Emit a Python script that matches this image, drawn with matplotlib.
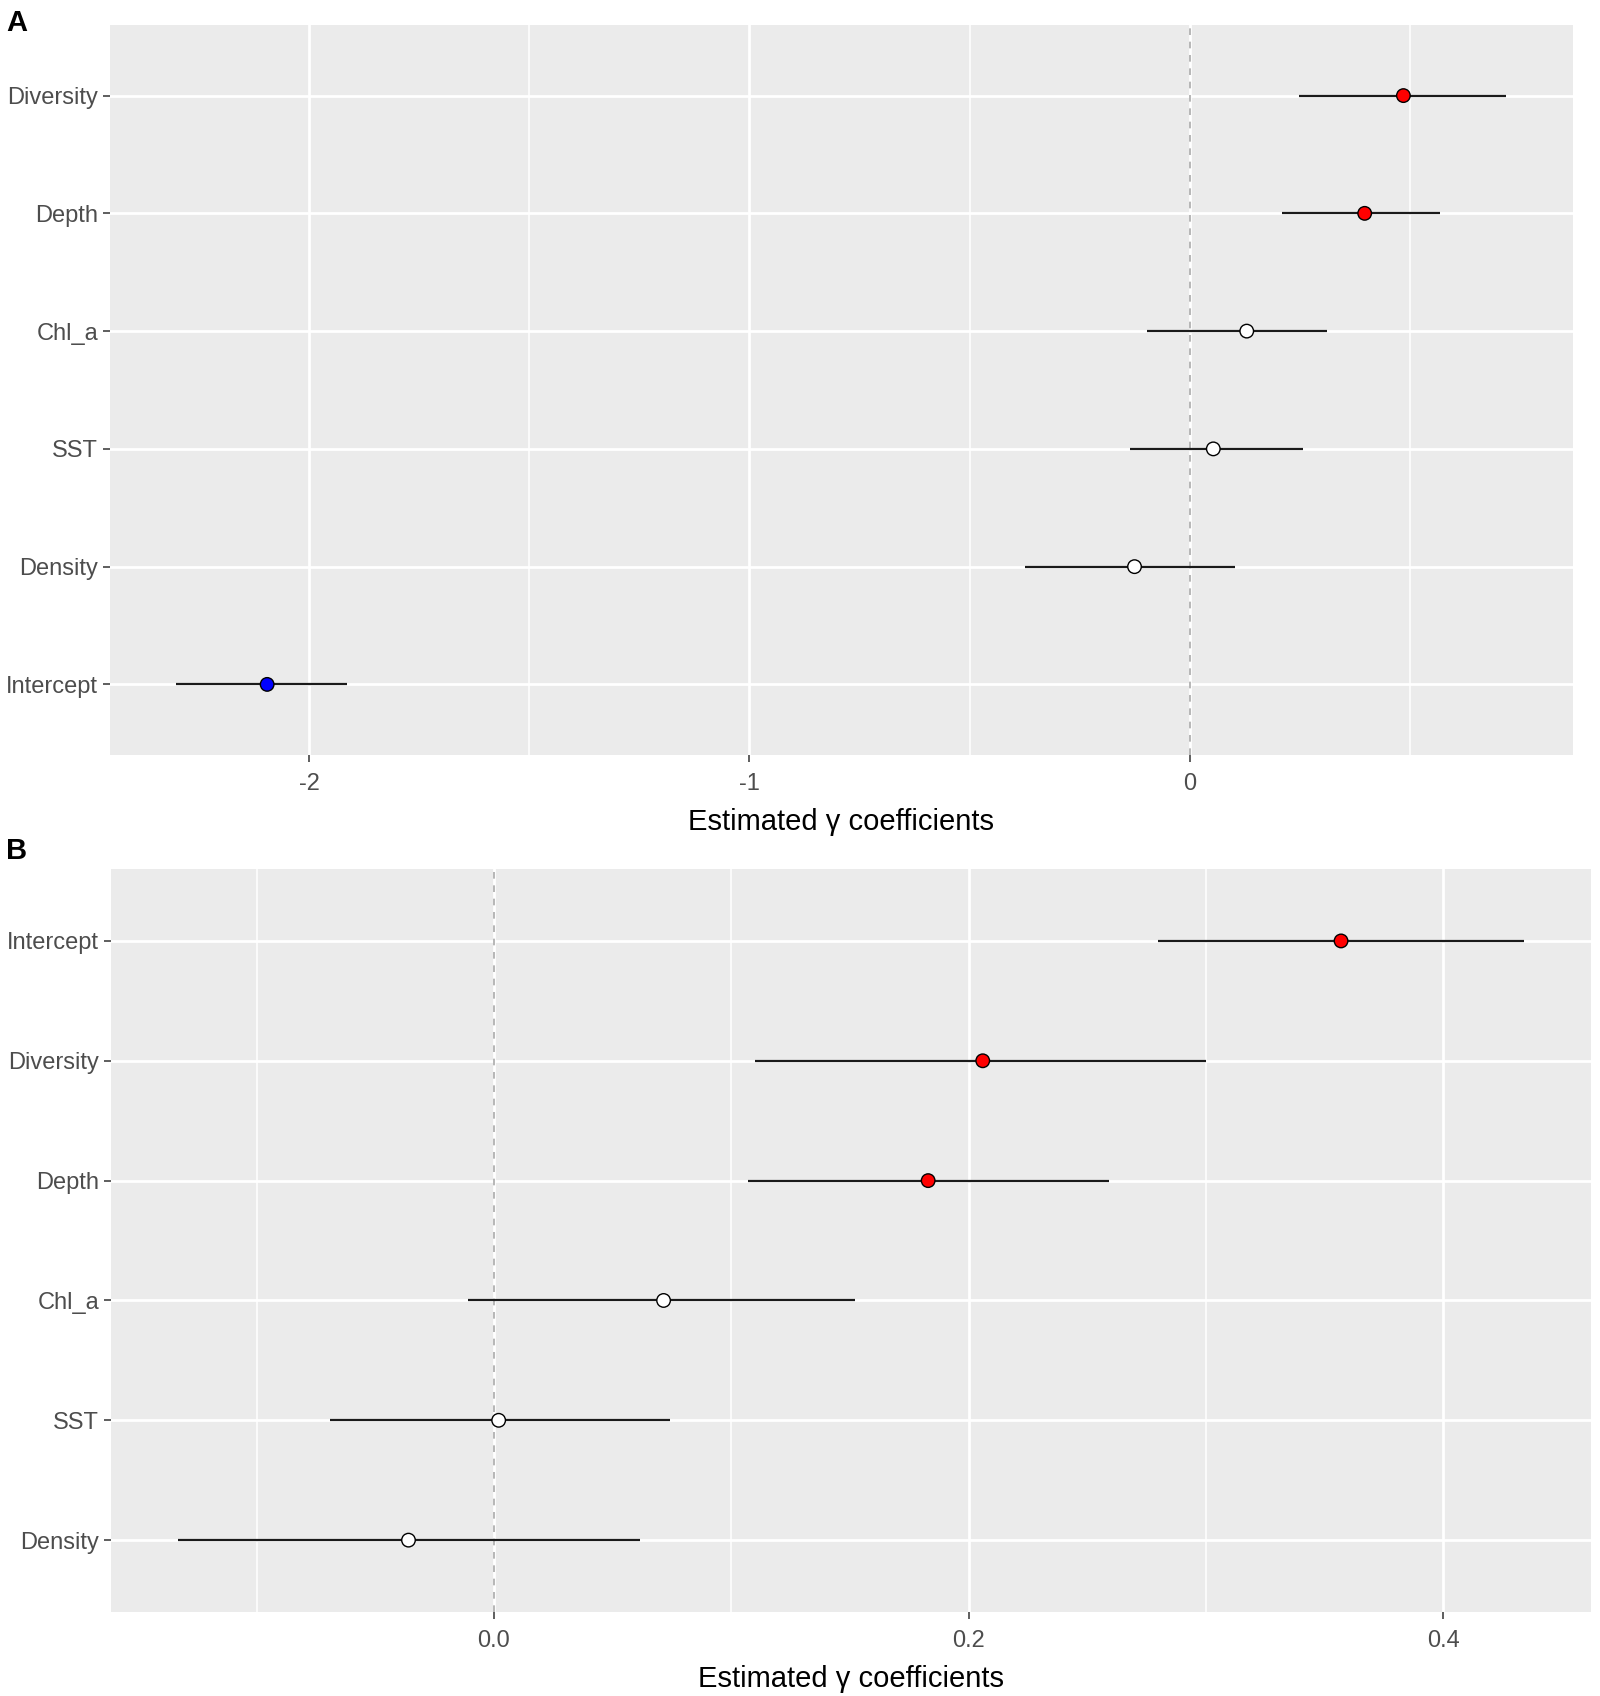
import matplotlib.pyplot as plt
import numpy as np

plt.rcParams['font.family'] = ['Liberation Sans', 'DejaVu Sans']

# panel A (bottom to top)
labels_a = ['Intercept', 'Density', 'SST', 'Chl_a', 'Depth', 'Diversity']
est_a = [-2.096, -0.125, 0.054, 0.130, 0.398, 0.486]
low_a = [-2.302, -0.373, -0.135, -0.096, 0.211, 0.248]
high_a = [-1.914, 0.103, 0.258, 0.312, 0.570, 0.720]
fill_a = ['blue', 'white', 'white', 'white', 'red', 'red']

# panel B (bottom to top)
labels_b = ['Density', 'SST', 'Chl_a', 'Depth', 'Diversity', 'Intercept']
est_b = [-0.036, 0.002, 0.0715, 0.183, 0.206, 0.357]
low_b = [-0.133, -0.069, -0.011, 0.107, 0.110, 0.280]
high_b = [0.0615, 0.074, 0.152, 0.259, 0.300, 0.434]
fill_b = ['white', 'white', 'white', 'red', 'red', 'red']

ticks_a = [-2, -1, 0]
tick_labels_a = ['-2', '-1', '0']
minor_a = [-1.5, -0.5, 0.5]
ticks_b = [0.0, 0.2, 0.4]
tick_labels_b = ['0.0', '0.2', '0.4']
minor_b = [-0.1, 0.1, 0.3]

fig = plt.figure(figsize=(16, 16.96), dpi=100)
ax_a = fig.add_axes([0.06875, 0.5548, 0.9143, 0.4305])
ax_b = fig.add_axes([0.0694, 0.0495, 0.925, 0.4381])


def draw(ax, labels, est, low, high, fill, ticks, tick_labels, minor):
    ax.set_facecolor('#EBEBEB')
    y = np.arange(1, len(labels) + 1)
    lo_all = min(low)
    hi_all = max(high)
    pad = 0.05 * (hi_all - lo_all)
    ax.set_xlim(lo_all - pad, hi_all + pad)
    ax.set_ylim(0.4, len(labels) + 0.6)
    for m in minor:
        ax.axvline(m, color='white', lw=1.1, zorder=0)
    for t in ticks:
        ax.axvline(t, color='white', lw=2.0, zorder=0)
    for yy in y:
        ax.axhline(yy, color='white', lw=2.0, zorder=0)
    ax.axvline(0, color='#AAAAAA', lw=1.2, ls=(0, (4, 4)), zorder=1)
    ax.hlines(y, low, high, color='#1a1a1a', lw=1.6, zorder=2)
    ax.scatter(est, y, s=95, c=fill, edgecolors='black', linewidths=1.0, zorder=3)
    ax.set_yticks(y)
    ax.set_yticklabels(labels)
    ax.set_xticks(ticks)
    ax.set_xticklabels(tick_labels)
    ax.tick_params(axis='both', colors='#333333', labelcolor='#4D4D4D',
                   labelsize=17, length=5, width=1.1)
    ax.tick_params(axis='x', pad=8)
    for s in ax.spines.values():
        s.set_visible(False)
    ax.set_xlabel('Estimated γ coefficients', fontsize=21, color='black', labelpad=9)


draw(ax_a, labels_a, est_a, low_a, high_a, fill_a, ticks_a, tick_labels_a, minor_a)
draw(ax_b, labels_b, est_b, low_b, high_b, fill_b, ticks_b, tick_labels_b, minor_b)

fig.text(0.004, 0.9945, 'A', fontsize=21, fontweight='bold', va='top', ha='left')
fig.text(0.004, 0.5062, 'B', fontsize=21, fontweight='bold', va='top', ha='left')

fig.savefig('out.png', dpi=100)
